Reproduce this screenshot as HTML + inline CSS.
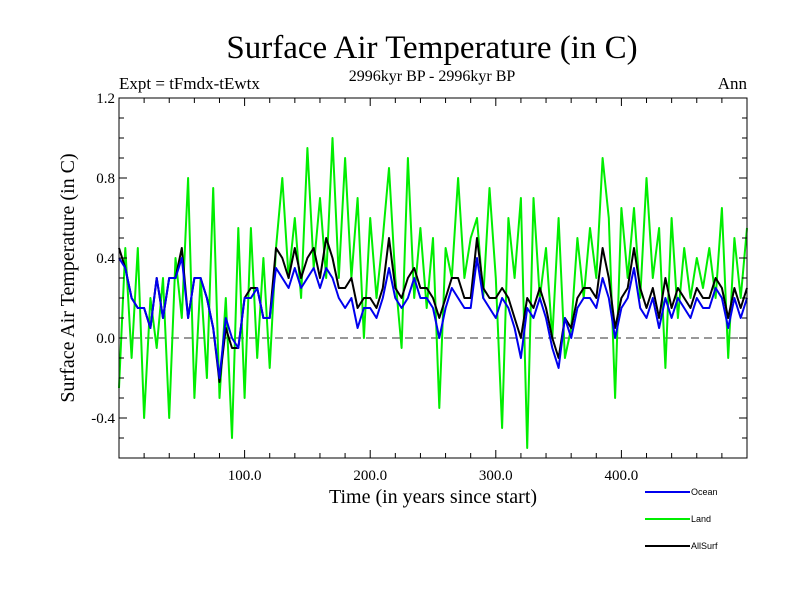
<!DOCTYPE html>
<html><head><meta charset="utf-8"><style>
body{margin:0;background:#fff;}
svg text{font-family:"Liberation Serif",serif;}
</style></head><body>
<svg id="chart" width="800" height="600" xmlns="http://www.w3.org/2000/svg">
<text x="432" y="58" font-size="33" text-anchor="middle">Surface Air Temperature (in C)</text>
<text x="119" y="89" font-size="17">Expt = tFmdx-tEwtx</text>
<text x="432" y="81" font-size="16" text-anchor="middle">2996kyr BP - 2996kyr BP</text>
<text x="747" y="89" font-size="17" text-anchor="end">Ann</text>
<text transform="translate(74,278) rotate(-90)" font-size="20" text-anchor="middle">Surface Air Temperature (in C)</text>
<text x="433" y="503" font-size="20" text-anchor="middle">Time (in years since start)</text>
<g id="plot"></g>
<g id="legend"></g>
</svg>
<script>
const years=[0,5,10,15,20,25,30,35,40,45,50,55,60,65,70,75,80,85,90,95,100,105,110,115,120,125,130,135,140,145,150,155,160,165,170,175,180,185,190,195,200,205,210,215,220,225,230,235,240,245,250,255,260,265,270,275,280,285,290,295,300,305,310,315,320,325,330,335,340,345,350,355,360,365,370,375,380,385,390,395,400,405,410,415,420,425,430,435,440,445,450,455,460,465,470,475,480,485,490,495,500];
const land=[-0.25,0.45,-0.1,0.45,-0.4,0.2,-0.05,0.3,-0.4,0.4,0.1,0.8,-0.3,0.3,-0.2,0.75,-0.3,0.2,-0.5,0.55,-0.3,0.55,-0.1,0.4,-0.15,0.45,0.8,0.3,0.6,0.2,0.95,0.35,0.7,0.3,1.0,0.3,0.9,0.3,0.7,0.0,0.6,0.2,0.5,0.85,0.3,-0.05,0.9,0.2,0.55,0.15,0.5,-0.35,0.45,0.3,0.8,0.3,0.5,0.6,0.2,0.75,0.3,-0.45,0.6,0.3,0.7,-0.55,0.7,0.2,0.45,0.0,0.6,-0.1,0.05,0.5,0.2,0.55,0.3,0.9,0.6,-0.3,0.65,0.3,0.65,0.2,0.8,0.3,0.55,-0.15,0.6,0.1,0.45,0.2,0.4,0.25,0.45,0.2,0.65,-0.1,0.5,0.2,0.55];
const ocean=[0.4,0.35,0.2,0.15,0.15,0.05,0.3,0.1,0.3,0.3,0.4,0.1,0.3,0.3,0.2,0.05,-0.2,0.1,0.0,-0.05,0.2,0.2,0.25,0.1,0.1,0.35,0.3,0.25,0.35,0.25,0.3,0.35,0.25,0.35,0.3,0.2,0.15,0.2,0.05,0.15,0.15,0.1,0.2,0.35,0.2,0.15,0.2,0.3,0.2,0.2,0.15,0.0,0.15,0.25,0.2,0.15,0.15,0.4,0.2,0.15,0.1,0.2,0.15,0.05,-0.1,0.15,0.1,0.2,0.1,-0.05,-0.15,0.1,0.0,0.15,0.2,0.2,0.15,0.3,0.2,0.0,0.15,0.2,0.35,0.15,0.1,0.2,0.05,0.2,0.1,0.2,0.15,0.1,0.2,0.15,0.15,0.25,0.2,0.05,0.2,0.1,0.2];
const allsurf=[0.45,0.35,0.2,0.15,0.15,0.05,0.3,0.1,0.3,0.3,0.45,0.1,0.3,0.3,0.2,0.05,-0.22,0.05,-0.05,-0.05,0.2,0.25,0.25,0.1,0.1,0.45,0.4,0.3,0.45,0.3,0.4,0.45,0.3,0.5,0.4,0.25,0.25,0.3,0.15,0.2,0.2,0.15,0.25,0.5,0.25,0.2,0.3,0.35,0.25,0.25,0.2,0.1,0.2,0.3,0.3,0.2,0.2,0.5,0.25,0.2,0.2,0.25,0.2,0.1,0.0,0.2,0.15,0.25,0.15,0.0,-0.1,0.1,0.05,0.2,0.25,0.25,0.2,0.45,0.3,0.05,0.2,0.25,0.45,0.25,0.15,0.25,0.1,0.3,0.15,0.25,0.2,0.15,0.25,0.2,0.2,0.3,0.25,0.1,0.25,0.15,0.25];
const yTicks=[-0.4,0.0,0.4,0.8,1.2];
const xTicks=[100,200,300,400];
const X0=119,X1=747,Y0=98,Y1=458,XMIN=0,XMAX=500,YMIN=-0.6,YMAX=1.2;
const sx=v=>X0+(v-XMIN)/(XMAX-XMIN)*(X1-X0);
const sy=v=>Y1-(v-YMIN)/(YMAX-YMIN)*(Y1-Y0);
const NS="http://www.w3.org/2000/svg";
const plot=document.getElementById('plot');
function mk(tag,attrs,parent){const e=document.createElementNS(NS,tag);for(const k in attrs)e.setAttribute(k,attrs[k]);(parent||plot).appendChild(e);return e;}
let z=mk('line',{x1:X0,x2:X1,y1:sy(0),y2:sy(0),stroke:'#333','stroke-width':1,'stroke-dasharray':'8,5'});


function series(vals,color,name,w){
  const d=vals.map((v,i)=>(i?'L':'M')+sx(years[i]).toFixed(1)+','+sy(v).toFixed(1)).join('');
  const p=mk('path',{d:d,fill:'none',stroke:color,'stroke-width':w,'stroke-linejoin':'round'});
  
  
}
series(land,'#00ee00','land-line',2);
series(allsurf,'#000','allsurf-line',2);
series(ocean,'#0000ee','ocean-line',2);
let fr=mk('rect',{x:X0,y:Y0,width:X1-X0,height:Y1-Y0,fill:'none',stroke:'#000','stroke-width':1});


for(let v=20;v<500;v+=20){
  const len=(v%100===0)?8:5;
  mk('line',{x1:sx(v),x2:sx(v),y1:Y1,y2:Y1-len,stroke:'#000'});
  mk('line',{x1:sx(v),x2:sx(v),y1:Y0,y2:Y0+len,stroke:'#000'});
}
for(let i=-5;i<=11;i++){const v=i/10;const major=Math.abs(Math.round(v*10)%4)===0;const len=major?8:5;
  mk('line',{x1:X0,x2:X0+len,y1:sy(v),y2:sy(v),stroke:'#000'});
  mk('line',{x1:X1,x2:X1-len,y1:sy(v),y2:sy(v),stroke:'#000'});}
xTicks.forEach(v=>{const t=mk('text',{x:sx(v),y:Y1+22,'font-size':15,'text-anchor':'middle'});t.textContent=v.toFixed(1);

});
yTicks.forEach(v=>{const t=mk('text',{x:X0-4,y:sy(v)+5,'font-size':15,'text-anchor':'end'});t.textContent=v.toFixed(1);

});
const lg=document.getElementById('legend');
[['Ocean','#0000ee',492],['Land','#00ee00',519],['AllSurf','#000',546]].forEach(([n,c,y])=>{
  const l=mk('line',{x1:645,x2:690,y1:y,y2:y,stroke:c,'stroke-width':2},lg);
  
  
  const t=mk('text',{x:691,y:y+3,'font-size':9},lg);
  t.style.fontFamily='"Liberation Sans",sans-serif';
  t.textContent=n;
  
  
});
</script>
</body></html>
